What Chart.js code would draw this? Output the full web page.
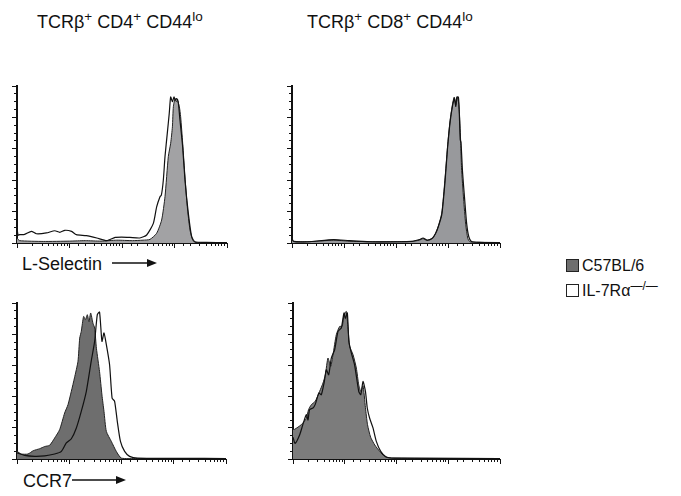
<!DOCTYPE html>
<html><head><meta charset="utf-8">
<script src="https://cdn.jsdelivr.net/npm/chart.js@4.4.1/dist/chart.umd.min.js"></script>
<style>
body{margin:0;background:#fff;width:681px;height:496px;position:relative;overflow:hidden;font-family:"Liberation Sans",Arial,Helvetica,sans-serif;color:#111;}
.t{position:absolute;white-space:nowrap;font-size:18px;line-height:1;}
.t sup{font-size:75%;line-height:0;vertical-align:0;position:relative;top:-0.5em;}
canvas{position:absolute;}
.sq{position:absolute;width:13px;height:13px;box-sizing:border-box;border:1px solid #222;}
svg{position:absolute;overflow:visible;}
</style></head><body>
<div class="t" style="left:37px;top:13px">TCRβ<sup>+</sup> CD4<sup>+</sup> CD44<sup>lo</sup></div>
<div class="t" style="left:307px;top:13px">TCRβ<sup>+</sup> CD8<sup>+</sup> CD44<sup>lo</sup></div>
<div class="t" style="left:22px;top:255px">L-Selectin</div>
<svg style="left:0;top:0" width="681" height="496"><line x1="112" y1="263" x2="150" y2="263" stroke="#111" stroke-width="1.3"/><polygon points="157,263 147,259 147,267" fill="#111"/><line x1="72" y1="480" x2="119" y2="480" stroke="#111" stroke-width="1.3"/><polygon points="126,480 116,476 116,484" fill="#111"/></svg>
<div class="t" style="left:23px;top:472px">CCR7</div>
<div class="sq" style="left:566px;top:259px;background:#6e6e6e"></div>
<div class="t" style="left:582px;top:258px;font-size:16px">C57BL/6</div>
<div class="sq" style="left:566px;top:284px;background:#fff"></div>
<div class="t" style="left:582px;top:283px;font-size:16px">IL-7Rα<sup>—/—</sup></div>
<canvas id="c1" style="left:0;top:80px" width="235" height="175"></canvas>
<canvas id="c2" style="left:275px;top:80px" width="235" height="175"></canvas>
<canvas id="c3" style="left:0;top:297px" width="235" height="175"></canvas>
<canvas id="c4" style="left:276px;top:297px" width="234" height="175"></canvas>
<script>
// x values are log10 fluorescence (decades 0..4), y values are % of max
// Panel 1: CD4+ L-Selectin
const cd4LselKoX = [0, 0.02, 0.05, 0.146, 0.274, 0.37, 0.56, 0.72, 0.815, 0.91, 1.04, 1.13, 1.32, 1.52, 1.71, 1.87, 1.99, 2.15, 2.34, 2.47, 2.597, 2.66, 2.724, 2.75, 2.787, 2.819, 2.863, 2.90, 2.927, 2.96, 2.99, 3.016, 3.04, 3.07, 3.105, 3.156, 3.2, 3.263, 3.327, 3.39, 3.6, 4.0];
const cd4LselKoY = [10, 5, 5.3, 5.5, 7.4, 5.9, 6.4, 7.8, 6.8, 8.1, 7.4, 5.3, 4.7, 3.2, 1.5, 3.6, 3.8, 3.6, 3.2, 5.1, 12.5, 23, 29.5, 30.5, 40, 55, 70, 82.6, 93, 90, 93, 91, 92, 90, 78, 61, 40, 19, 4, 0.8, 0.4, 0.2];
const cd4LselWtX = [0, 0.05, 0.5, 1.0, 1.3, 1.6, 1.9, 2.2, 2.4, 2.533, 2.66, 2.755, 2.819, 2.882, 2.927, 2.96, 2.978, 3.01, 3.035, 3.054, 3.092, 3.117, 3.156, 3.2, 3.244, 3.295, 3.346, 3.39, 3.6, 4.0];
const cd4LselWtY = [3, 1.5, 1.0, 1.2, 1.5, 1.2, 1.8, 1.5, 1.8, 2.3, 6.2, 14.6, 29.5, 55, 63.5, 74, 86.8, 92, 90, 91, 86.8, 80.5, 63.5, 42, 23, 8.3, 2, 0.4, 0.3, 0.2];
// Panel 2: CD8+ L-Selectin
const cd8LselKoX = [0, 0.03, 0.3, 0.8, 1.1, 1.5, 2.0, 2.3, 2.45, 2.52, 2.6, 2.7, 2.76, 2.81, 2.88, 2.94, 2.99, 3.04, 3.09, 3.125, 3.15, 3.17, 3.2, 3.215, 3.235, 3.25, 3.28, 3.32, 3.36, 3.4, 3.45, 3.6, 4.0];
const cd8LselKoY = [3, 1, 0.8, 2.2, 1.5, 0.8, 0.8, 1.0, 2.2, 3.2, 1.8, 3, 6, 10, 18, 38, 60, 77, 88, 92, 87, 93, 93, 85, 66, 64, 45, 28, 12, 4, 1, 0.4, 0.2];
const cd8LselWtX = [0, 0.03, 0.3, 0.8, 1.1, 1.5, 2.0, 2.3, 2.45, 2.52, 2.6, 2.7, 2.76, 2.81, 2.88, 2.94, 2.99, 3.04, 3.09, 3.12, 3.15, 3.19, 3.22, 3.245, 3.26, 3.3, 3.34, 3.38, 3.42, 3.55, 4.0];
const cd8LselWtY = [3, 1, 0.8, 1.8, 1.2, 0.8, 0.8, 1.0, 1.8, 2.8, 1.6, 3, 6, 10.4, 19, 40, 61, 78, 89, 93, 88, 93, 82.6, 63.5, 48, 28, 12, 3, 0.8, 0.5, 0.3];
// Panel 3: CD4+ CCR7
const cd4Ccr7KoX = [0, 0.147, 0.34, 0.53, 0.72, 0.85, 0.944, 1.04, 1.136, 1.23, 1.327, 1.42, 1.486, 1.537, 1.58, 1.626, 1.665, 1.71, 1.772, 1.82, 1.868, 1.92, 1.98, 2.06, 2.155, 2.31, 4.0];
const cd4Ccr7KoY = [4, 2.3, 1.7, 2, 3.2, 4.9, 10.3, 13, 19.9, 30.5, 43.4, 62.6, 75.4, 92.5, 94.2, 75.4, 80.8, 73.3, 60.4, 39, 37, 24, 11.3, 4.9, 1.7, 0.6, 0.3];
const cd4Ccr7WtX = [0, 0.084, 0.21, 0.31, 0.434, 0.53, 0.625, 0.72, 0.816, 0.912, 0.976, 1.04, 1.10, 1.167, 1.2, 1.23, 1.275, 1.31, 1.346, 1.377, 1.41, 1.454, 1.486, 1.52, 1.58, 1.626, 1.665, 1.71, 1.805, 1.9, 1.996, 2.3, 4.0];
const cd4Ccr7WtY = [4.9, 3.2, 3.2, 5.3, 6.6, 8, 8.8, 13.4, 18.8, 29.5, 34.8, 43.4, 52, 62.6, 77.5, 81.8, 91.4, 89.3, 92.5, 88, 93.6, 87, 84, 71, 56, 41, 30.5, 17.7, 11.3, 4.9, 0.6, 0.3, 0.3];
// Panel 4: CD8+ CCR7
const cd8Ccr7KoX = [0, 0.04, 0.13, 0.19, 0.257, 0.29, 0.32, 0.386, 0.43, 0.5, 0.547, 0.6, 0.644, 0.69, 0.74, 0.805, 0.87, 0.933, 0.985, 1.01, 1.05, 1.08, 1.127, 1.19, 1.27, 1.31, 1.353, 1.4, 1.435, 1.48, 1.546, 1.61, 1.695, 1.8, 1.965, 4.0];
const cd8Ccr7KoY = [14, 10, 15.6, 22, 28.4, 25, 31.6, 32.7, 35, 42.3, 41.2, 48.7, 57.2, 54, 64.7, 70, 81.8, 84, 93.6, 90, 93.6, 75.4, 68, 60.4, 43.4, 41.2, 49.7, 43.4, 32.7, 26.3, 19.9, 11.3, 4.9, 1.3, 0.6, 0.3];
const cd8Ccr7WtX = [0, 0.03, 0.16, 0.257, 0.30, 0.354, 0.43, 0.515, 0.58, 0.625, 0.676, 0.728, 0.773, 0.837, 0.902, 0.95, 0.985, 1.03, 1.063, 1.095, 1.16, 1.224, 1.27, 1.31, 1.353, 1.40, 1.44, 1.5, 1.58, 1.675, 1.77, 1.9, 4.0];
const cd8Ccr7WtY = [19, 19, 22, 26, 31.6, 34.8, 37, 43.4, 48.7, 54, 64.7, 59.4, 66.9, 79.7, 85, 85, 92.5, 94.6, 84, 72.2, 66.9, 58.3, 47.6, 43.4, 47, 33, 22, 14, 9, 4.9, 1.7, 0.6, 0.3];

const seriesLabels = ['IL-7Rα−/−', 'C57BL/6'];

function pts(X, Y) { return X.map((d, i) => ({ x: Math.pow(10, d), y: Y[i] })); }
function isDecade(v) { const l = Math.log10(v); return Math.abs(l - Math.round(l)) < 1e-6; }

function makePanel(id, koX, koY, wtX, wtY, fillColor, pad) {
  new Chart(document.getElementById(id), {
    type: 'line',
    data: {
      datasets: [
        { label: seriesLabels[0], data: pts(koX, koY), borderColor: '#111', borderWidth: 1.2, fill: false, pointRadius: 0, tension: 0.2, xAxisID: 'x', yAxisID: 'y' },
        { label: seriesLabels[1], data: pts(wtX, wtY), borderColor: '#222', borderWidth: 1, backgroundColor: fillColor, fill: 'origin', pointRadius: 0, tension: 0.2, xAxisID: 'x', yAxisID: 'y' }
      ]
    },
    options: {
      responsive: false, animation: false, events: [],
      layout: { padding: pad },
      plugins: { legend: { display: false }, tooltip: { enabled: false } },
      scales: {
        x: { type: 'logarithmic', min: 1, max: 10000, position: 'bottom',
             ticks: { display: false },
             afterBuildTicks: s => { s.ticks = s.ticks.filter(t => isDecade(t.value)); },
             grid: { drawOnChartArea: false, drawTicks: true, tickLength: 5, tickColor: '#111', tickWidth: 1 },
             border: { display: true, color: '#111', width: 1 },
             afterFit: s => { s.height = 0; } },
        xMinor: { type: 'logarithmic', min: 1, max: 10000, position: 'bottom',
             ticks: { display: false },
             grid: { drawOnChartArea: false, drawTicks: true, tickLength: 3, tickColor: '#111', tickWidth: 1 },
             border: { display: false },
             afterFit: s => { s.height = 0; } },
        y: { type: 'linear', min: 0, max: 100, position: 'left',
             ticks: { display: false, stepSize: 20 },
             grid: { drawOnChartArea: false, drawTicks: true, tickLength: 5, tickColor: '#111', tickWidth: 1 },
             border: { display: true, color: '#111', width: 2 },
             afterFit: s => { s.width = 0; } },
        yMinor: { type: 'linear', min: 0, max: 100, position: 'left',
             ticks: { display: false, stepSize: 5 },
             grid: { drawOnChartArea: false, drawTicks: true, tickLength: 3, tickColor: '#111', tickWidth: 1 },
             border: { display: false },
             afterFit: s => { s.width = 0; } }
      }
    }
  });
}

makePanel('c1', cd4LselKoX, cd4LselKoY, cd4LselWtX, cd4LselWtY, '#a2a2a4', { left: 17, top: 6, right: 8, bottom: 12 });
makePanel('c2', cd8LselKoX, cd8LselKoY, cd8LselWtX, cd8LselWtY, '#98999c', { left: 17, top: 6, right: 10, bottom: 12 });
makePanel('c3', cd4Ccr7KoX, cd4Ccr7KoY, cd4Ccr7WtX, cd4Ccr7WtY, '#6e6e6e', { left: 17, top: 6, right: 9, bottom: 13 });
makePanel('c4', cd8Ccr7KoX, cd8Ccr7KoY, cd8Ccr7WtX, cd8Ccr7WtY, '#7c7c7c', { left: 17, top: 6, right: 10, bottom: 13 });
</script>
</body></html>
